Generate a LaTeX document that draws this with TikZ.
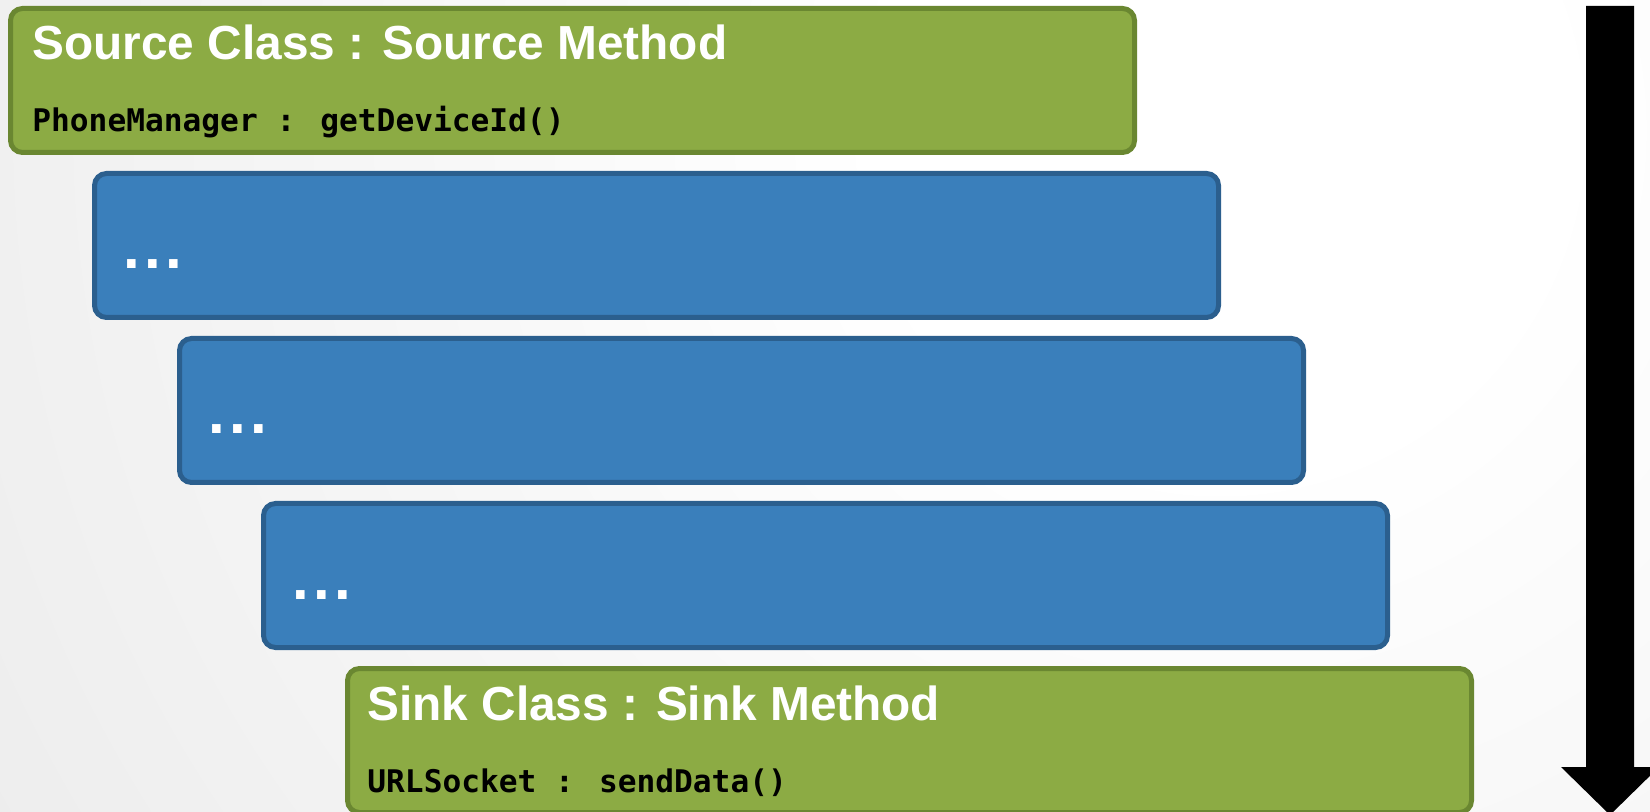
\documentclass[tikz,border=0pt]{standalone}
\usepackage{fontspec}
\setmainfont{Liberation Sans}
\newfontfamily\codefont{DejaVu Sans Mono}
\usetikzlibrary{calc}

\definecolor{bggray}{HTML}{D6D6D6}
\definecolor{leafgreen}{HTML}{8CAB44}
\definecolor{leafedge}{HTML}{6A8731}
\definecolor{stepblue}{HTML}{3A7FBB}
\definecolor{stepedge}{HTML}{2B5F8E}

\pgfdeclareradialshading{backdrop}{\pgfpoint{0bp}{0bp}}{%
  color(0bp)=(white); color(6bp)=(white); color(50bp)=(bggray)}

\tikzset{
  callbox/.style={rectangle, rounded corners=6pt, line width=2.5pt,
    minimum width=562pt, minimum height=72pt, inner sep=0pt},
  endpoint/.style={callbox, fill=leafgreen, draw=leafedge},
  midstep/.style={callbox, fill=stepblue, draw=stepedge},
  headline/.style={anchor=base west, inner sep=0pt, text=white,
    font=\bfseries\fontsize{23.9pt}{28pt}\selectfont},
  codeline/.style={anchor=base west, inner sep=0pt, text=black,
    font=\codefont\bfseries\fontsize{15.6pt}{19pt}\selectfont},
  ellipsis/.style={anchor=base west, inner sep=0pt, text=white,
    font=\bfseries\fontsize{30pt}{32pt}\selectfont}
}
\newcommand{\gapdots}{.\kern2.15pt.\kern2.15pt.}

\begin{document}
\begin{tikzpicture}[x=0.5pt,y=-0.5pt]
  \useasboundingbox (0,0) rectangle (1650,812);
  \clip (0,0) rectangle (1650,812);

  % soft radial backdrop, brightest near the upper right
  \shade[shading=backdrop] (1220,130) circle (1400);

  % call chain, each step shifted right and down
  \node[endpoint] (src)   at (572.5, 80.5) {};
  \node[midstep]  (hop1)  at (656.5,245.5) {};
  \node[midstep]  (hop2)  at (741.5,410.5) {};
  \node[midstep]  (hop3)  at (825.5,575.5) {};
  \node[endpoint] (sink)  at (909.5,740.5) {};

  % labels
  \node[headline] (srctitle) at ($(src.north west)+(24,54)$) {Source Class : Source Method};
  \node[codeline] (srccode)  at ($(src.north west)+(24,126)$) {PhoneManager : getDeviceId()};

  \node[ellipsis] (dots1) at ($(hop1.north west)+(31,98)$) {\gapdots};
  \node[ellipsis] (dots2) at ($(hop2.north west)+(31,98)$) {\gapdots};
  \node[ellipsis] (dots3) at ($(hop3.north west)+(31,98)$) {\gapdots};

  \node[headline] (sinktitle) at ($(sink.north west)+(22,54)$) {Sink Class : Sink Method};
  \node[codeline] (sinkcode)  at ($(sink.north west)+(22,126)$) {URLSocket : sendData()};

  % downward flow arrow
  \fill[black] (1586,6) -- (1634,6) -- (1634,767) -- (1659,767)
    -- (1610,815) -- (1561,767) -- (1586,767) -- cycle;
\end{tikzpicture}
\end{document}
